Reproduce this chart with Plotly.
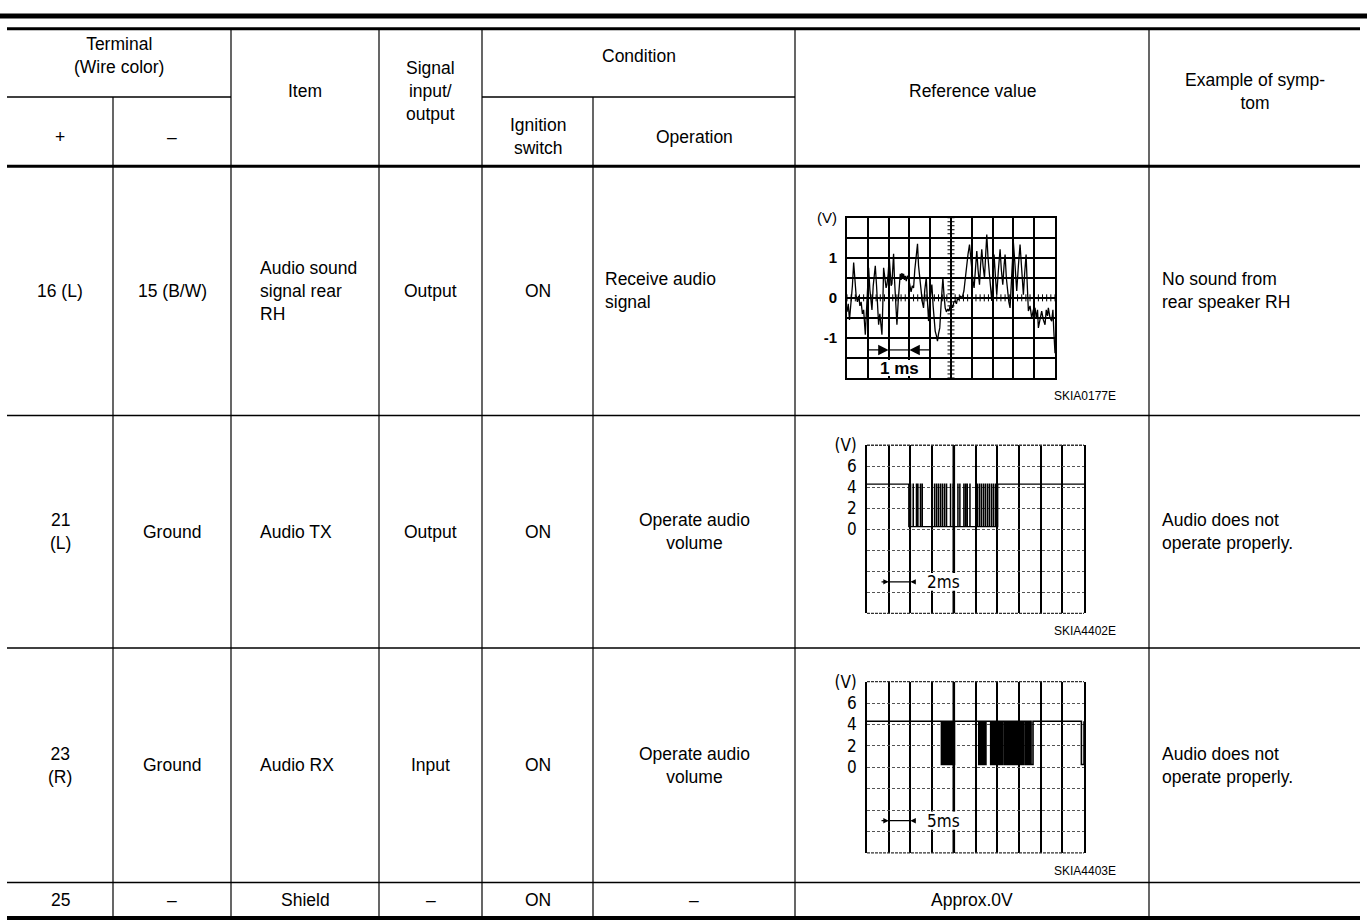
import numpy as np
import plotly.graph_objects as go

W, H = 1367, 924
FONT = "Liberation Sans, Arial, Helvetica, sans-serif"
COND = "DejaVu Sans Condensed, Liberation Sans Narrow, Liberation Sans, sans-serif"
BODY = 17.5

# ---------------- table content ----------------
header_terminal = "Terminal<br>(Wire color)"
header_plus = "+"
header_minus = "–"
header_item = "Item"
header_signal = "Signal<br>input/<br>output"
header_condition = "Condition"
header_ignition = "Ignition<br>switch"
header_operation = "Operation"
header_reference = "Reference value"
header_symptom = "Example of symp-<br>tom"

terminal_plus = ["16 (L)", "21<br>(L)", "23<br>(R)", "25"]
terminal_minus = ["15 (B/W)", "Ground", "Ground", "–"]
item_names = ["Audio sound<br>signal rear<br>RH", "Audio TX", "Audio RX", "Shield"]
signal_io = ["Output", "Output", "Input", "–"]
ignition_switch = ["ON", "ON", "ON", "ON"]
operation = ["Receive audio<br>signal", "Operate audio<br>volume", "Operate audio<br>volume", "–"]
reference_text = ["", "", "", "Approx.0V"]
symptoms = ["No sound from<br>rear speaker RH", "Audio does not<br>operate properly.",
            "Audio does not<br>operate properly.", ""]
figure_codes = ["SKIA0177E", "SKIA4402E", "SKIA4403E"]

# ---------------- waveform data ----------------
# Waveform 1: audio signal, time (ms) vs volts, 1 ms/div, 0.5 V/div
wave1_samples = [
    (0.00, -0.35), (0.06, -0.15), (0.12, -0.55), (0.18, -0.20), (0.26, 0.30), (0.32, 0.88),
    (0.38, 0.30), (0.44, 0.05), (0.50, -0.10), (0.56, 0.05), (0.62, -0.20), (0.68, -0.10),
    (0.74, -0.40), (0.80, -0.30), (0.88, -0.92), (0.94, -0.20), (1.00, 0.45), (1.04, 0.75),
    (1.10, 0.20), (1.16, -0.10), (1.20, -0.30), (1.26, 0.30), (1.32, 0.60), (1.36, 0.80),
    (1.42, 0.30), (1.48, -0.20), (1.52, -0.67), (1.58, -0.40), (1.64, -0.70), (1.68, -0.92),
    (1.72, -0.20), (1.76, 0.75), (1.82, 0.50), (1.88, 0.25), (1.92, 0.33), (1.98, 0.60),
    (2.03, 1.02), (2.08, 0.70), (2.12, 0.30), (2.16, 0.35), (2.20, 0.70), (2.24, 1.10),
    (2.28, 0.50), (2.34, -0.20), (2.40, -0.67), (2.46, -0.10), (2.52, 0.40), (2.56, 0.60),
    (2.60, 0.45), (2.64, 0.62), (2.68, 0.50), (2.72, 0.60), (2.76, 0.45), (2.80, 0.55),
    (2.85, 0.42), (2.90, 0.55), (2.96, 0.50), (3.02, 0.30), (3.08, 0.15), (3.14, 0.30),
    (3.20, 0.25), (3.26, 0.70), (3.32, 1.10), (3.39, 1.35), (3.44, 0.80), (3.50, 0.42),
    (3.56, 0.20), (3.62, -0.10), (3.68, -0.25), (3.74, 0.20), (3.81, 0.50), (3.86, 0.00),
    (3.92, -0.58), (3.98, -0.10), (4.04, 0.30), (4.08, 0.33), (4.14, -0.20), (4.20, -0.60),
    (4.24, -0.83), (4.30, -0.95), (4.35, -1.08), (4.40, -0.90), (4.46, -0.75), (4.52, -0.20),
    (4.58, 0.30), (4.61, 0.50), (4.66, 0.10), (4.72, -0.25), (4.78, -0.35), (4.84, -0.28),
    (4.90, -0.33), (4.96, -0.20), (5.02, -0.17), (5.08, -0.25), (5.14, -0.10), (5.20, -0.08),
    (5.26, -0.15), (5.32, 0.00), (5.38, -0.05), (5.44, 0.05), (5.50, 0.00), (5.56, 0.05),
    (5.62, 0.17), (5.68, 0.50), (5.76, 0.92), (5.82, 1.10), (5.89, 1.33), (5.94, 1.00),
    (6.00, 0.75), (6.06, 0.40), (6.11, 0.25), (6.16, 0.70), (6.24, 1.17), (6.30, 0.70),
    (6.37, 0.33), (6.42, 0.80), (6.48, 1.21), (6.54, 0.80), (6.61, 0.50), (6.66, 1.00),
    (6.72, 1.58), (6.78, 1.00), (6.85, 0.50), (6.90, 0.20), (6.96, -0.08), (7.02, 0.50),
    (7.07, 1.08), (7.14, 0.50), (7.20, 0.08), (7.28, 0.70), (7.36, 1.21), (7.42, 0.70),
    (7.49, 0.33), (7.55, 0.80), (7.60, 1.08), (7.66, 0.50), (7.73, 0.08), (7.78, -0.10),
    (7.84, -0.25), (7.92, 0.60), (8.00, 1.38), (8.08, 0.80), (8.16, 0.17), (8.24, 0.80),
    (8.32, 1.33), (8.40, 0.70), (8.48, 0.08), (8.54, 0.60), (8.61, 1.08), (8.66, 0.40),
    (8.72, -0.33), (8.80, -0.20), (8.88, -0.50), (8.96, -0.30), (9.04, -0.25), (9.10, -0.50),
    (9.16, -0.30), (9.20, -0.75), (9.28, -0.50), (9.36, -0.33), (9.44, -0.55), (9.52, -0.67),
    (9.58, -0.30), (9.64, -0.45), (9.68, -0.25), (9.76, -0.50), (9.84, -0.58), (9.90, -0.30),
    (9.94, -0.80), (10.0, -1.38),
]

# Waveform 2: Audio TX, 2 ms/div, 2 V/div.
# Burst window (low level) with short high spikes inside it, times in ms.
tx_span_ms = 20.0
tx_high_v, tx_low_v = 4.3, 0.25
tx_burst_ms = (3.85, 12.05)
tx_spike_times_ms = [4.00, 4.25, 4.55, 4.68, 4.92, 5.08, 6.00, 6.22, 6.40, 6.58, 6.77, 6.95,
                     7.14, 7.32, 7.69, 7.94, 8.37, 8.55, 8.92, 9.08, 9.23, 9.48, 10.15, 10.34,
                     10.52, 10.71, 10.89, 11.08, 11.26, 11.45, 11.63, 11.82]
tx_spike_width_ms = 0.02

# Waveform 3: Audio RX, 5 ms/div, 2 V/div. Low pulses (start, end) in ms.
rx_span_ms = 50.0
rx_high_v, rx_low_v = 4.3, 0.25
rx_low_pulses_ms = [
    (17.15, 17.35), (17.45, 17.60), (17.70, 17.90), (18.00, 18.15), (18.25, 18.45),
    (18.55, 18.70), (18.80, 19.00), (19.10, 19.25), (19.35, 19.55), (19.65, 19.80),
    (19.90, 20.15),
    (25.75, 26.10), (26.20, 26.40), (26.70, 27.00), (27.10, 27.40), (28.50, 28.80),
    (28.90, 29.10), (29.20, 29.50), (29.60, 29.80), (29.90, 30.20), (30.30, 30.50),
    (30.60, 30.90), (31.00, 31.30), (31.70, 32.00), (32.10, 32.30), (32.40, 32.70),
    (32.80, 33.00), (33.30, 33.60), (33.70, 33.90), (34.00, 34.30), (34.40, 34.60),
    (34.70, 35.00), (35.10, 35.30), (35.40, 35.70), (35.80, 36.00), (36.40, 36.70),
    (36.80, 37.00), (37.10, 37.40), (37.50, 37.70), (37.80, 38.25),
    (49.40, 50.00),
]

# scope graticule definitions
g1_x_div, g1_ms_per_div = 10, 1.0
g1_y_ticks = [-2, -1.5, -1, -0.5, 0, 0.5, 1, 1.5, 2]
g1_y_text = ["", "", "<b>-1</b>", "", "<b>0</b>", "", "<b>1</b>", "", "(V)"]
g23_y_ticks = [-8, -6, -4, -2, 0, 2, 4, 6, 8]
g23_y_text = ["", "", "", "", "0", "2", "4", "6", "(V)"]
trigger_div = 4

# ---------------- layout geometry (pixels) ----------------
col_x = [7, 113, 231, 379, 482, 593, 795, 1149, 1360]
y_top1, y_top2, y_hsplit, y_hbot = 6, 19, 88, 158
row_y = [158, 410, 645, 882, 918]
grid_boxes = [(847, 1055, 210, 372), (867, 1084, 440, 610), (867, 1084, 679, 852)]
y_head_upper, y_head_mid, y_head_lower = 46, 82, 128


def PX(x):
    return x / W


def PY(y):
    return 1 - y / H


shapes = []
annotations = []


def hline(y, x0, x1, w):
    shapes.append(dict(type="line", xref="paper", yref="paper", x0=PX(x0), x1=PX(x1),
                       y0=PY(y), y1=PY(y), line=dict(color="black", width=w)))


def vline(x, y0, y1, w=1.2):
    shapes.append(dict(type="line", xref="paper", yref="paper", x0=PX(x), x1=PX(x),
                       y0=PY(y0), y1=PY(y1), line=dict(color="black", width=w)))


def txt(x, y, s, anchor="center", size=BODY, family=FONT):
    if not s:
        return
    annotations.append(dict(xref="paper", yref="paper", x=PX(x), y=PY(y), text=s,
                            showarrow=False, xanchor=anchor, yanchor="middle",
                            align=anchor,
                            font=dict(family=family, size=size, color="black")))


# table rules
hline(y_top1, 0, 1367, 5)
hline(y_top2, col_x[0], col_x[-1], 3)
hline(y_hsplit, col_x[0], col_x[2], 1.5)
hline(y_hsplit, col_x[4], col_x[6], 1.5)
hline(y_hbot, col_x[0], col_x[-1], 3)
for yy in row_y[1:-1]:
    hline(yy, col_x[0], col_x[-1], 1.5)
hline(row_y[-1], col_x[0], col_x[-1], 4)
for i, xx in enumerate(col_x[1:-1], start=1):
    top = y_hsplit if i in (1, 5) else y_top2
    vline(xx, top, row_y[-1])


def cx(i):
    return (col_x[i] + col_x[i + 1]) / 2


# header texts
txt((col_x[0] + col_x[2]) / 2, y_head_upper, header_terminal)
txt(cx(0), y_head_lower, header_plus)
txt(cx(1), y_head_lower, header_minus)
txt(cx(2), y_head_mid, header_item)
txt(cx(3), y_head_mid, header_signal)
txt((col_x[4] + col_x[6]) / 2, y_head_upper, header_condition)
txt(cx(4), y_head_lower, header_ignition)
txt(cx(5), y_head_lower, header_operation)
txt(cx(6), y_head_mid, header_reference)
txt(cx(7), y_head_mid, header_symptom)

# body texts
for r in range(4):
    yc = (row_y[r] + row_y[r + 1]) / 2
    txt(cx(0), yc, terminal_plus[r])
    txt(cx(1), yc, terminal_minus[r])
    if r < 3:
        txt(col_x[2] + 27, yc, item_names[r], anchor="left")
    else:
        txt(cx(2), yc, item_names[r])
    txt(cx(3), yc, signal_io[r])
    txt(cx(4), yc, ignition_switch[r])
    if r == 0:
        txt(col_x[5] + 10, yc, operation[r], anchor="left")
    else:
        txt(cx(5), yc, operation[r])
    txt(cx(6), yc, reference_text[r])
    txt(col_x[7] + 11, yc, symptoms[r], anchor="left")

for r, code in enumerate(figure_codes):
    txt(1118, grid_boxes[r][3] + 18, code, anchor="right", size=12)

# ---------------- waveform axes ----------------
layout_axes = {}


def axis_pair(idx, box, xrange_, xdtick, ytick, ytext, hgrid_color, hgrid_dash, tickfont, line_w):
    x0, x1, yt, yb = box
    sfx = "" if idx == 1 else str(idx)
    layout_axes["xaxis" + sfx] = dict(
        domain=[PX(x0), PX(x1)], range=xrange_, tickmode="linear", tick0=0, dtick=xdtick,
        showgrid=True, gridcolor="black", gridwidth=1.5, zeroline=False, showticklabels=False,
        ticks="", showline=(idx == 1), mirror=True, linecolor="black", linewidth=line_w,
        fixedrange=True, anchor="y" + sfx)
    layout_axes["yaxis" + sfx] = dict(
        domain=[PY(yb), PY(yt)], range=[ytick[0], ytick[-1]], tickmode="array",
        tickvals=ytick, ticktext=ytext, showgrid=True, gridcolor=hgrid_color,
        gridwidth=1.5 if idx == 1 else 1.1,
        griddash=hgrid_dash, zeroline=False, ticks="outside", ticklen=5,
        tickcolor="rgba(0,0,0,0)", tickfont=tickfont, showline=True, mirror=True,
        linecolor="black", linewidth=line_w, fixedrange=True, anchor="x" + sfx)
    if idx != 1:
        for yv in (0, 1):
            shapes.append(dict(type="line", xref="x%s domain" % sfx, yref="y%s domain" % sfx,
                               x0=0, x1=1, y0=yv, y1=yv, layer="above",
                               line=dict(color="#333333", width=1.3, dash="3px,1px")))


axis_pair(1, grid_boxes[0], [0, g1_x_div * g1_ms_per_div], g1_ms_per_div, g1_y_ticks, g1_y_text,
          "black", "solid", dict(family=FONT, size=15, color="black"), 2)
axis_pair(2, grid_boxes[1], [0, tx_span_ms], tx_span_ms / 10, g23_y_ticks, g23_y_text,
          "#555555", "3px,2px", dict(family=COND, size=17, color="black"), 1.5)
axis_pair(3, grid_boxes[2], [0, rx_span_ms], rx_span_ms / 10, g23_y_ticks, g23_y_text,
          "#555555", "3px,2px", dict(family=COND, size=17, color="black"), 1.5)


def step_line(pulses, span, hi, lo):
    xs, ys = [0.0], [hi]
    for a, b in pulses:
        xs += [a, a, b, b]
        ys += [hi, lo, lo, hi]
    if xs[-1] < span:
        xs.append(span)
        ys.append(hi)
    return xs, ys


def burst_line(burst, spikes, width, span, hi, lo):
    a, b = burst
    xs, ys = [0.0, a, a], [hi, hi, lo]
    for t in spikes:
        xs += [t, t, t + width, t + width]
        ys += [lo, hi, hi, lo]
    xs += [b, b, span]
    ys += [lo, hi, hi]
    return xs, ys


traces = []
w1_t = [p[0] for p in wave1_samples]
w1_v = [p[1] for p in wave1_samples]
traces.append(go.Scatter(x=w1_t, y=w1_v, mode="lines", line=dict(color="black", width=1.3),
                         xaxis="x", yaxis="y", hoverinfo="skip"))
# graticule minor ticks on centre lines of scope 1
cmid = g1_x_div * g1_ms_per_div / 2
vt = np.arange(g1_y_ticks[0], g1_y_ticks[-1] + 1e-9, 0.1)
traces.append(go.Scatter(x=[cmid] * len(vt), y=vt, mode="markers",
                         marker=dict(symbol="line-ew", size=5, line=dict(color="black", width=1)),
                         xaxis="x", yaxis="y", hoverinfo="skip"))
ht = np.arange(0, g1_x_div * g1_ms_per_div + 1e-9, 0.2)
traces.append(go.Scatter(x=ht, y=[0] * len(ht), mode="markers",
                         marker=dict(symbol="line-ns", size=5, line=dict(color="black", width=1)),
                         xaxis="x", yaxis="y", hoverinfo="skip"))

tx_x, tx_y = burst_line(tx_burst_ms, tx_spike_times_ms, tx_spike_width_ms, tx_span_ms,
                        tx_high_v, tx_low_v)
traces.append(go.Scatter(x=tx_x, y=tx_y, mode="lines", line=dict(color="black", width=1.3),
                         xaxis="x2", yaxis="y2", hoverinfo="skip"))
rx_x, rx_y = step_line(rx_low_pulses_ms, rx_span_ms, rx_high_v, rx_low_v)
traces.append(go.Scatter(x=rx_x, y=rx_y, mode="lines", line=dict(color="black", width=1.6),
                         xaxis="x3", yaxis="y3", hoverinfo="skip"))

# ---- scope 1 dimension "1 ms" ----
ya = -1.3
shapes.append(dict(type="line", xref="x", yref="y", x0=2 * g1_ms_per_div, x1=3 * g1_ms_per_div,
                   y0=ya, y1=ya, line=dict(color="black", width=1.2), layer="above"))
for head, tail in ((2.0, 0.9), (3.0, 4.05)):
    annotations.append(dict(x=head, y=ya, ax=tail, ay=ya, xref="x", yref="y", axref="x", ayref="y",
                            showarrow=True, arrowhead=2, arrowsize=1.6, arrowwidth=1.3,
                            arrowcolor="black", text=""))
shapes.append(dict(type="rect", xref="x", yref="y", x0=1.08, x1=3.92, y0=-1.95, y1=-1.55,
                   fillcolor="white", line=dict(width=0), layer="above"))
annotations.append(dict(x=2.5, y=-1.76, xref="x", yref="y", text="<b>1 ms</b>", showarrow=False,
                        font=dict(family=FONT, size=17, color="black")))


# ---- scopes 2 and 3: trigger line + time-base label ----
def timebase(ax, span, label):
    d = span / 10
    xr, yr = "x" + ax, "y" + ax
    shapes.append(dict(type="line", xref=xr, yref=yr, x0=trigger_div * d, x1=trigger_div * d,
                       y0=-8, y1=8, line=dict(color="black", width=2.6), layer="above"))
    shapes.append(dict(type="rect", xref=xr, yref=yr, x0=2.55 * d, x1=4.15 * d, y0=-5.85, y1=-4.15,
                       fillcolor="white", line=dict(width=0), layer="above"))
    shapes.append(dict(type="line", xref=xr, yref=yr, x0=1 * d, x1=2 * d, y0=-5, y1=-5,
                       line=dict(color="black", width=1.2), layer="above"))
    for head, tail in ((1 * d, 0.6 * d), (2 * d, 2.3 * d)):
        annotations.append(dict(x=head, y=-5, ax=tail, ay=-5, xref=xr, yref=yr, axref=xr, ayref=yr,
                                showarrow=True, arrowhead=2, arrowsize=0.9, arrowwidth=1.2,
                                arrowcolor="black", text=""))
    annotations.append(dict(x=2.65 * d, y=-5, xref=xr, yref=yr, text=label, showarrow=False,
                            xanchor="left", font=dict(family=COND, size=17, color="black")))


timebase("2", tx_span_ms, "2ms")
timebase("3", rx_span_ms, "5ms")

fig = go.Figure(data=traces)
fig.update_layout(width=W, height=H, margin=dict(l=0, r=0, t=0, b=0), paper_bgcolor="white",
                  plot_bgcolor="white", showlegend=False, shapes=shapes, annotations=annotations,
                  **layout_axes)
fig.write_html("out.html", config={"displayModeBar": False},
               post_script="document.body.style.margin='0';document.body.style.overflow='hidden';")
